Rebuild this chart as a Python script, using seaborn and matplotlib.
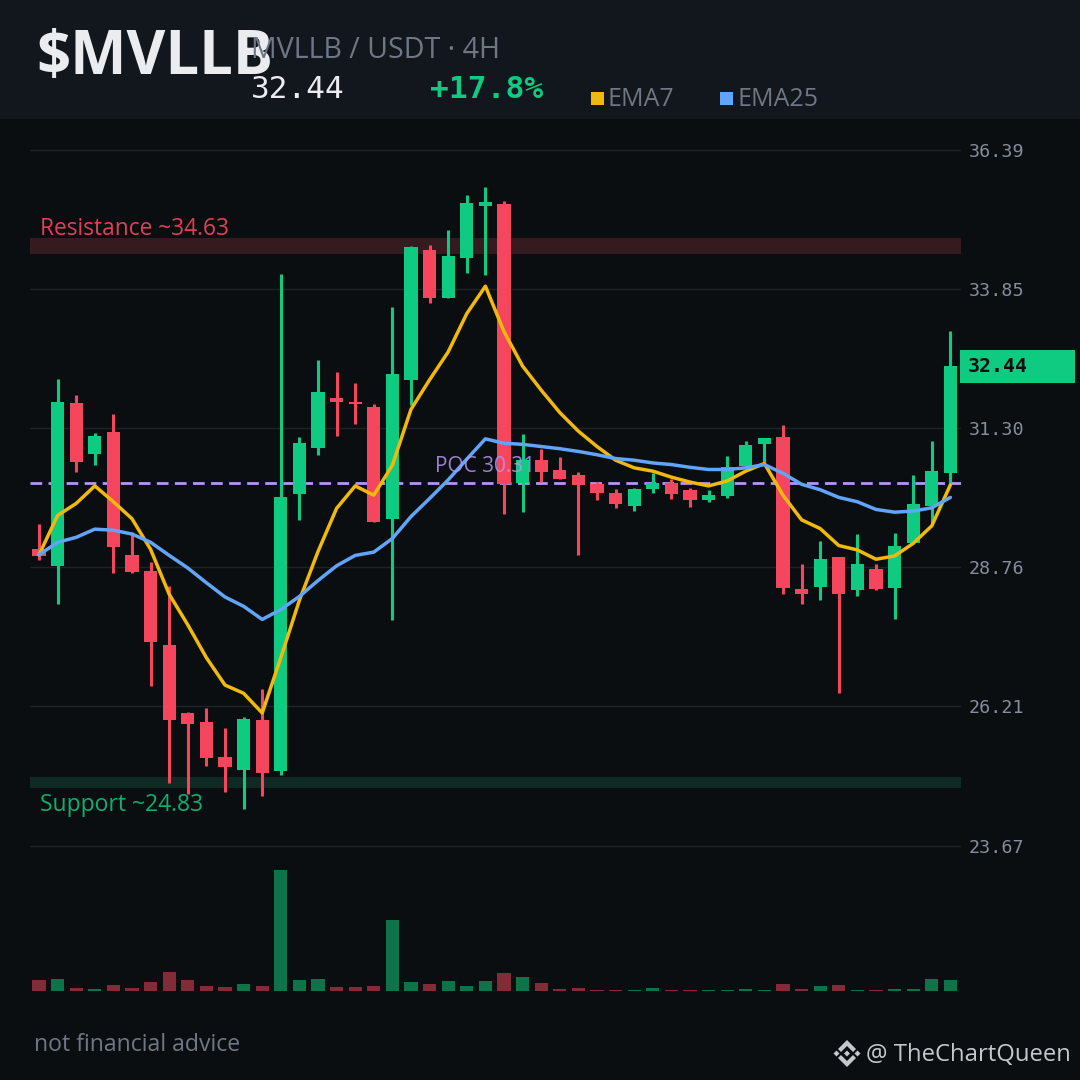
import numpy as np
import pandas as pd
import matplotlib
matplotlib.use("Agg")
import matplotlib.pyplot as plt
from matplotlib.patches import Rectangle, Polygon
import seaborn as sns

# ---- data ----
opens = [29.115, 28.79, 31.78, 30.85, 31.25, 28.99, 28.70, 27.35, 26.11, 25.94,
         25.30, 25.07, 25.98, 25.05, 30.11, 30.95, 31.87, 31.80, 31.70, 29.66,
         32.20, 34.57, 33.69, 34.43, 35.38, 35.41, 30.31, 30.73, 30.55, 30.46,
         30.30, 30.13, 29.89, 30.20, 30.31, 30.19, 30.00, 30.08, 30.62, 31.03,
         31.15, 28.38, 28.41, 28.96, 28.36, 28.74, 28.39, 29.22, 29.89, 30.50]
highs = [29.56, 32.21, 31.92, 31.23, 31.58, 29.41, 28.87, 28.43, 26.13, 26.20,
         25.83, 26.03, 26.55, 34.14, 31.15, 32.56, 32.34, 32.14, 31.76, 33.53,
         34.65, 34.66, 34.94, 35.58, 35.72, 35.47, 31.21, 30.93, 30.79, 30.51,
         30.33, 30.20, 30.22, 30.50, 30.39, 30.22, 30.19, 30.81, 31.08, 31.14,
         31.37, 28.83, 29.25, 28.96, 29.38, 28.83, 29.40, 30.46, 31.08, 33.09]
lows = [28.91, 28.10, 30.52, 30.64, 28.67, 28.67, 26.60, 24.83, 24.63, 25.14,
        24.67, 24.36, 24.59, 24.97, 29.64, 30.82, 31.17, 31.39, 29.60, 27.81,
        31.73, 33.60, 33.69, 34.15, 34.12, 29.75, 29.78, 30.33, 30.39, 29.00,
        30.00, 29.86, 29.80, 30.13, 30.02, 29.87, 29.97, 30.04, 30.62, 30.64,
        28.28, 28.10, 28.18, 26.48, 28.25, 28.36, 27.83, 29.22, 29.56, 30.28]
closes = [28.98, 31.79, 30.70, 31.17, 29.14, 28.69, 27.41, 25.98, 25.91, 25.29,
          25.12, 26.00, 25.01, 30.06, 31.05, 31.98, 31.79, 31.76, 29.60, 32.31,
          34.63, 33.69, 34.46, 35.43, 35.45, 30.30, 30.73, 30.51, 30.39, 30.28,
          30.13, 29.93, 30.20, 30.31, 30.11, 30.00, 30.09, 30.61, 31.01, 31.14,
          28.39, 28.28, 28.92, 28.28, 28.83, 28.38, 29.16, 29.93, 30.53, 32.45]
ema7 = [29.00, 29.72, 29.94, 30.26, 29.97, 29.66, 29.10, 28.28, 27.72, 27.12,
        26.62, 26.47, 26.11, 27.12, 28.17, 29.06, 29.85, 30.26, 30.09, 30.64,
        31.66, 32.20, 32.71, 33.41, 33.91, 33.08, 32.45, 32.01, 31.60, 31.26,
        30.98, 30.73, 30.59, 30.53, 30.42, 30.33, 30.26, 30.35, 30.53, 30.67,
        30.09, 29.64, 29.48, 29.17, 29.09, 28.92, 28.98, 29.21, 29.53, 30.28]
ema25 = [29.00, 29.23, 29.32, 29.47, 29.45, 29.38, 29.23, 28.99, 28.76, 28.49,
         28.23, 28.06, 27.82, 28.00, 28.24, 28.53, 28.80, 28.99, 29.05, 29.30,
         29.70, 30.03, 30.37, 30.75, 31.12, 31.04, 31.02, 30.98, 30.94, 30.89,
         30.83, 30.76, 30.73, 30.68, 30.65, 30.60, 30.56, 30.56, 30.59, 30.65,
         30.49, 30.29, 30.19, 30.05, 29.97, 29.83, 29.78, 29.80, 29.86, 30.05]
volumes = [11, 12, 3, 2, 6, 3, 9, 19, 11, 5, 4, 7, 5, 121, 11, 12, 4, 4, 5, 71,
           9, 7, 10, 5, 10, 18, 14, 8, 2, 3, 1, 1, 1, 3, 1, 1, 1, 1, 2, 1,
           7, 2, 5, 6, 1, 1, 2, 2, 12, 11]
price_ticks = [36.39, 33.85, 31.31, 28.77, 26.23, 23.68]
tick_labels = ["36.39", "33.85", "31.30", "28.76", "26.21", "23.67"]
resistance = 34.63
support = 24.83
poc = 30.32
last_price = "32.44"

# ---- styles ----
BG = "#0b0e11"
HEADER = "#12161d"
GRID = "#1e2329"
UP = "#0ecb81"
DOWN = "#f6465d"
UP_VOL = "#0d7349"
DOWN_VOL = "#842b38"
C_EMA7 = "#f0b90b"
C_EMA25 = "#60a5fa"
C_POC = "#b794f4"
MUTED = "#848e9c"
W = H = 1080

sns.set_theme(style="dark", rc={"lines.scale_dashes": False})
plt.rcParams["font.family"] = ["Open Sans", "DejaVu Sans"]

fig = plt.figure(figsize=(10.8, 10.8), dpi=100, facecolor=BG)


def fx(x):
    return x / W


def fy(y):
    return 1 - y / H


def label(x, y, s, **kw):
    kw.setdefault("va", "center")
    return fig.text(fx(x), fy(y), s, **kw)


# ---- panels ----
left, right, top, bottom = 30, 961, 125, 991
ax = fig.add_axes([fx(left), fy(bottom), fx(right - left), (bottom - top) / H])
vol_ax = ax.twinx()
ax.set_zorder(2)
vol_ax.set_zorder(1)
ax.patch.set_visible(False)
vol_ax.set_facecolor(BG)

idx = np.arange(len(closes))
o, h, l, c = map(np.array, (opens, highs, lows, closes))
up = c >= o

# volume
vol_df = pd.DataFrame({"i": idx, "v": volumes, "dir": np.where(up, "up", "down")})
sns.barplot(data=vol_df, x="i", y="v", hue="dir", palette={"up": UP_VOL, "down": DOWN_VOL},
            native_scale=True, dodge=False, width=0.70, saturation=1, legend=False,
            linewidth=0, ax=vol_ax)
vol_ax.set_ylim(0, bottom - top)
vol_ax.axis("off")

# zones and levels
ax.axhspan(resistance - 0.135, resistance + 0.16, color="#351a20", lw=0, zorder=1)
ax.axhspan(support - 0.095, support + 0.105, color="#0f2a23", lw=0, zorder=1)
ax.axhline(poc, color=C_POC, lw=2.0, linestyle=(0, (8.4, 4.6)), zorder=1.5)

# candles
colors = np.where(up, UP, DOWN)
ax.vlines(idx, l, h, colors=colors, lw=2.2, zorder=3)
ax.bar(idx, np.maximum(np.abs(c - o), 0.03), bottom=np.minimum(o, c), width=0.70,
       color=colors, linewidth=0, zorder=3)

# moving averages
sns.lineplot(x=idx, y=ema7, color=C_EMA7, lw=2.5, ax=ax, zorder=4, legend=False)
sns.lineplot(x=idx, y=ema25, color=C_EMA25, lw=2.5, ax=ax, zorder=4, legend=False)

# axes
ax.set_xlim(-0.484, 49.57)
vol_ax.set_xlim(-0.484, 49.57)
ax.set_ylim(21.029, 36.856)
ax.set_xlabel("")
ax.set_ylabel("")
ax.set_xticks([])
ax.yaxis.tick_right()
ax.set_yticks(price_ticks)
ax.set_yticklabels(tick_labels, family="DejaVu Sans Mono", fontsize=13.2, color=MUTED)
ax.tick_params(axis="y", length=0, pad=5.7, labelright=True, labelleft=False)
ax.grid(axis="y", color=GRID, lw=1, zorder=0)
ax.set_axisbelow(True)
for sp in ax.spines.values():
    sp.set_visible(False)

# header
fig.patches.append(Rectangle((0, fy(119)), 1, 119 / H, transform=fig.transFigure,
                             facecolor=HEADER, edgecolor="none", zorder=0))
label(36, 59, "$MVLLB", color="#eaecef", fontsize=43, fontweight="bold", zorder=5)
label(251, 51, "MVLLB / USDT · 4H", color="#6f7785", fontsize=20.6, zorder=6)
label(251, 89, last_price, color="#eaecef", fontsize=22.4, family="DejaVu Sans Mono")
label(430, 89, "+17.8%", color=UP, fontsize=22.5, family="DejaVu Sans Mono", fontweight="bold")
for sq_x, txt_x, col, txt in [(591, 608, C_EMA7, "EMA7"), (720, 738, C_EMA25, "EMA25")]:
    fig.patches.append(Rectangle((fx(sq_x), fy(105)), 13 / W, 13 / H, transform=fig.transFigure,
                                 facecolor=col, edgecolor="none"))
    label(txt_x, 100, txt, color="#6f7785", fontsize=18)

# level labels
label(40, 229, f"Resistance ~{resistance:.2f}", color=DOWN, alpha=0.9, fontsize=16.4, zorder=6)
label(40, 805, f"Support ~{support:.2f}", color=UP, alpha=0.85, fontsize=16.5, zorder=6)
label(435, 466, "POC 30.31", color=C_POC, alpha=0.85, fontsize=15, zorder=6)

# last price tag
fig.patches.append(Rectangle((fx(960), fy(383)), 115 / W, 33 / H, transform=fig.transFigure,
                             facecolor=UP, edgecolor="none", zorder=5))
label(968, 367, last_price, color=BG, fontsize=14.3, family="DejaVu Sans Mono",
      fontweight="bold", zorder=6)

# footer
label(34, 1045, "not financial advice", color="#6f7785", fontsize=16.55)
label(1071, 1055, "@ TheChartQueen", color="#c4c8ce", fontsize=17.2, ha="right")
logo_parts = [
    [(847, 1040), (856, 1049), (853, 1052), (847, 1046), (841, 1052), (838, 1049)],
    [(847, 1067), (856, 1058), (853, 1055), (847, 1061), (841, 1055), (838, 1058)],
    [(847, 1050.5), (850, 1053.5), (847, 1056.5), (844, 1053.5)],
    [(833.5, 1053.5), (836.5, 1050.5), (839.5, 1053.5), (836.5, 1056.5)],
    [(854.5, 1053.5), (857.5, 1050.5), (860.5, 1053.5), (857.5, 1056.5)],
]
for part in logo_parts:
    fig.patches.append(Polygon([(fx(a), fy(b)) for a, b in part], closed=True,
                               transform=fig.transFigure, facecolor="#c4c8ce", edgecolor="none"))

fig.savefig("out.png", dpi=100, facecolor=BG)
